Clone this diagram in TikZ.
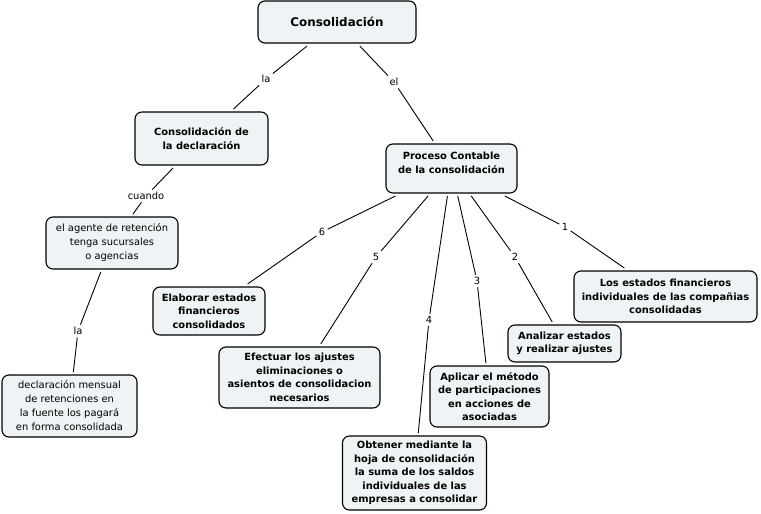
\documentclass[tikz,border=0pt]{standalone}
\usepackage{fontspec}
\setmainfont{DejaVu Sans}
\definecolor{boxfill}{HTML}{EEF3F5}
\begin{document}
\begin{tikzpicture}[x=1pt,y=-1pt,
  concept/.style={draw=black,line width=1.1pt,fill=boxfill,rounded corners=7pt,
     align=center,inner sep=0pt,outer sep=3pt,font=\fontsize{9.9}{13.5}\selectfont\bfseries},
  plain/.style={concept,font=\fontsize{9.9}{14}\selectfont},
  lbl/.style={inner sep=1.5pt,outer sep=1pt,font=\fontsize{9.9}{12}\selectfont},
  link/.style={draw=black,line width=0.9pt}]
\useasboundingbox (0,0) rectangle (761,514);
\node[concept,minimum width=158pt,minimum height=42pt,font=\fontsize{11.9}{14}\selectfont\bfseries] (title) at (337,22) {Consolidación};
\node[concept,minimum width=133pt,minimum height=53pt] (decl) at (201.5,138.5) {Consolidación de\\la declaración};
\node[concept,minimum width=131pt,minimum height=49pt] (proc) at (451.5,168.5) {Proceso Contable\\de la consolidación\\[-2pt]\mbox{}};
\node[plain,minimum width=132pt,minimum height=52pt] (agente) at (112,243) {el agente de retención\\tenga sucursales\\o agencias};
\node[plain,minimum width=135pt,minimum height=62pt] (mensual) at (69.5,406) {declaración mensual\\de retenciones en\\la fuente los pagará\\en forma consolidada};
\node[concept,minimum width=183pt,minimum height=51pt] (estados) at (665.5,296.5) {Los estados financieros\\individuales de las compañias\\consolidadas};
\node[concept,minimum width=113pt,minimum height=37pt] (analizar) at (564.5,343.5) {Analizar estados\\y realizar ajustes};
\node[concept,minimum width=119pt,minimum height=61pt] (aplicar) at (489.5,396.5) {Aplicar el método\\de participaciones\\en acciones de\\asociadas};
\node[concept,minimum width=144pt,minimum height=74pt] (obtener) at (414.5,473) {Obtener mediante la\\hoja de consolidación\\la suma de los saldos\\individuales de las\\empresas a consolidar};
\node[concept,minimum width=161pt,minimum height=61pt] (efectuar) at (299.5,377.5) {Efectuar los ajustes\\eliminaciones o\\asientos de consolidacion\\necesarios};
\node[concept,minimum width=112pt,minimum height=48pt] (elaborar) at (209,311) {Elaborar estados\\financieros\\consolidados};
% labels
\node[lbl] (l1) at (266,79) {la};
\node[lbl] (l2) at (394,82) {el};
\node[lbl] (l3) at (146,196) {cuando};
\node[lbl] (l4) at (78,331) {la};
\node[lbl] (n6) at (322,232) {6};
\node[lbl] (n5) at (376,257) {5};
\node[lbl] (n4) at (429,320) {4};
\node[lbl] (n3) at (477,281) {3};
\node[lbl] (n2) at (515,257) {2};
\node[lbl] (n1) at (565,227) {1};
% connectors
\draw[link] (title) -- (l1) -- (decl);
\draw[link] (title) -- (l2) -- (proc);
\draw[link] (decl) -- (l3) -- (agente);
\draw[link] (agente) -- (l4) -- (mensual);
\draw[link] (proc) -- (n6) -- (elaborar);
\draw[link] (proc) -- (n5) -- (efectuar);
\draw[link] (proc) -- (n4) -- (obtener);
\draw[link] (proc) -- (n3) -- (aplicar);
\draw[link] (proc) -- (n2) -- (analizar);
\draw[link] (proc) -- (n1) -- (estados);
\end{tikzpicture}
\end{document}
